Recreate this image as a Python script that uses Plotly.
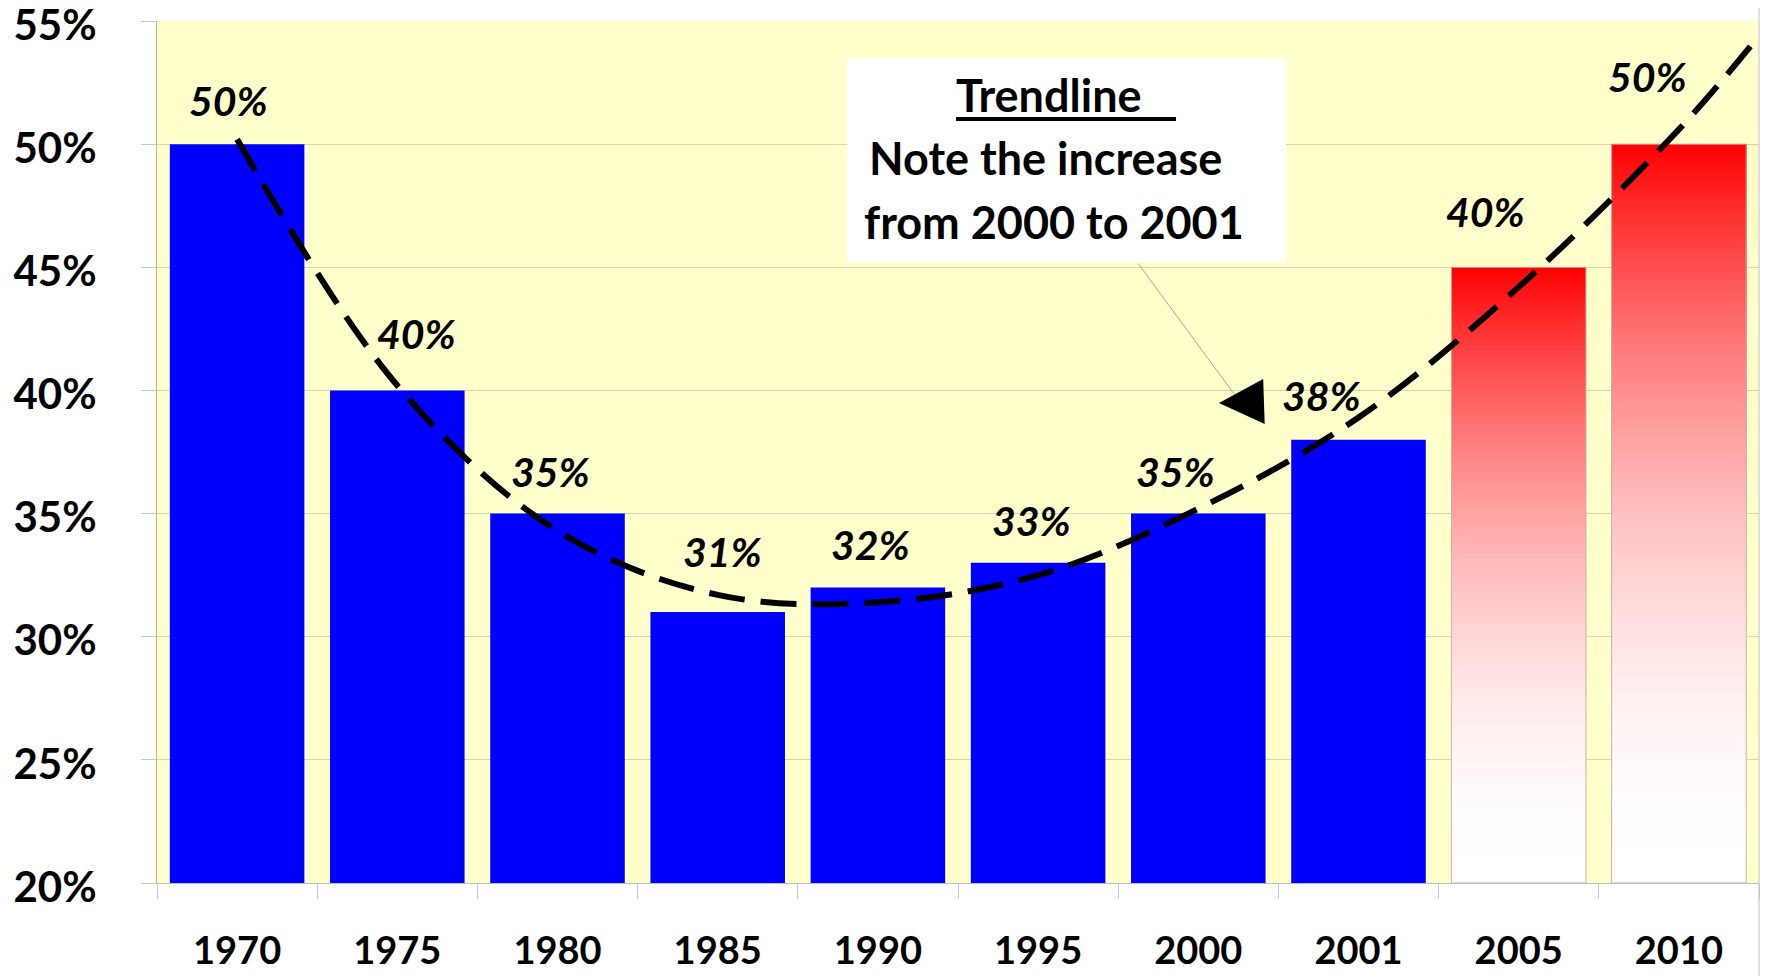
import plotly.graph_objects as go

# ---------------- data ----------------
categories = ['1970', '1975', '1980', '1985', '1990', '1995', '2000', '2001', '2005', '2010']
values = [50, 40, 35, 31, 32, 33, 35, 38, 45, 50]
value_labels = ['50%', '40%', '35%', '31%', '32%', '33%', '35%', '38%', '40%', '50%']
is_projection = [False, False, False, False, False, False, False, False, True, True]
# trendline at each category, plus its forward extension (half a period)
trend_values = [50.2, 40.2, 34.3, 31.7, 31.4, 32.5, 35.2, 38.9, 44.2, 50.6]
trend_forward_value = 54.4
y_ticks = [20, 25, 30, 35, 40, 45, 50, 55]

# ---------------- style ----------------
FONT = 'Lato'
Y_MIN, Y_MAX = 20, 55
label_shift_x = [-9, 19, -7, 5, -7, -7, -23, -37, -33, -31]
label_shift_y = [44, 57, 42, 61, 43, 42, 42, 44, 56, 68]

fig = go.Figure()

hist_x = [c for c, p in zip(categories, is_projection) if not p]
hist_y = [v for v, p in zip(values, is_projection) if not p]
proj_x = [c for c, p in zip(categories, is_projection) if p]
proj_y = [v for v, p in zip(values, is_projection) if p]

fig.add_trace(go.Bar(x=hist_x, y=hist_y, marker=dict(color='#0000FF', line=dict(width=0)),
                     hoverinfo='skip', showlegend=False))

# gradient red bars (red at top fading to white at the bottom), drawn as overlapping layers
N = 120
for k in range(N):
    t = k / N
    bases = [Y_MIN + (v - Y_MIN) * t for v in proj_y]
    heights = [v - b for v, b in zip(proj_y, bases)]
    w = 1 - ((k + 0.5) / N) ** 2
    g = int(round(255 * w))
    fig.add_trace(go.Bar(x=proj_x, y=heights, base=bases,
                         marker=dict(color=f'rgb(255,{g},{g})', line=dict(width=0)),
                         hoverinfo='skip', showlegend=False))
fig.add_trace(go.Bar(x=proj_x, y=[v - Y_MIN for v in proj_y], base=[Y_MIN] * len(proj_y),
                     marker=dict(color='rgba(0,0,0,0)', line=dict(color='#C8AFAF', width=1)),
                     hoverinfo='skip', showlegend=False))

# trendline on an overlaid linear axis so that it can run past the last category
cat_index = list(range(len(categories)))
trend_x = cat_index + [len(categories) - 0.5]
trend_y = trend_values + [trend_forward_value]
fig.add_trace(go.Scatter(x=trend_x, y=trend_y, xaxis='x2', mode='lines',
                         line=dict(color='black', width=6, dash='36px,16px', shape='spline', smoothing=1),
                         hoverinfo='skip', showlegend=False))

annotations = []
for i, v, lab, dx, dy in zip(cat_index, values, value_labels, label_shift_x, label_shift_y):
    annotations.append(dict(x=i, y=v, xref='x2', yref='y', text=lab, showarrow=False,
                            xshift=dx, yshift=dy, yanchor='middle', xanchor='center',
                            font=dict(family=FONT, size=41, color='black', weight='bold', style='italic')))

NOTE_SIZE = 45
annotations += [
    dict(x=0.5568, y=0.9142, xref='paper', yref='paper', text='Trendline', showarrow=False,
         xanchor='center', yanchor='middle', font=dict(family=FONT, size=NOTE_SIZE, color='black', weight='bold')),
    dict(x=0.4432, y=0.8411, xref='paper', yref='paper', text='Note the increase', showarrow=False,
         xanchor='left', yanchor='middle', font=dict(family=FONT, size=NOTE_SIZE, color='black', weight='bold')),
    dict(x=0.4401, y=0.7668, xref='paper', yref='paper', text='from 2000 to 2001', showarrow=False,
         xanchor='left', yanchor='middle', font=dict(family=FONT, size=NOTE_SIZE, color='black', weight='bold')),
    # connector line
    dict(x=0.6742, y=0.5626, xref='paper', yref='paper', ax=-100, ay=-136, text='', showarrow=True,
         arrowhead=0, arrowwidth=1, arrowcolor='#A8A890'),
    # arrow head (points left, as in the source)
    dict(x=0.6629, y=0.5568, xref='paper', yref='paper', ax=30, ay=-1, text='', showarrow=True,
         arrowhead=2, arrowsize=3, arrowwidth=3, arrowcolor='black'),
]

shapes = [
    dict(type='rect', xref='paper', yref='paper', x0=0.4307, x1=0.7047, y0=0.7204, y1=0.9571,
         fillcolor='white', line=dict(width=0), layer='above'),
    dict(type='line', xref='paper', yref='paper', x0=0.4988, x1=0.6361, y0=0.8863, y1=0.8863,
         line=dict(color='black', width=4), layer='above'),
    dict(type='line', xref='paper', yref='paper', x0=1.0, x1=1.0, y0=-0.12, y1=1.03,
         line=dict(color='#C0C0C0', width=1), layer='above'),
]

fig.update_layout(
    width=1756, height=968,
    margin=dict(l=149, r=5, t=13, b=93, autoexpand=False),
    paper_bgcolor='white', plot_bgcolor='#FFFFCC',
    barmode='overlay', bargap=0.16,
    showlegend=False,
    annotations=annotations, shapes=shapes,
    xaxis=dict(type='category', categoryorder='array', categoryarray=categories,
               range=[-0.5, len(categories) - 0.5], automargin=False,
               tickson='boundaries', ticks='outside', ticklen=15, tickcolor='#C8C8C8',
               showline=True, linecolor='#BEBEBE', linewidth=1, showgrid=False,
               tickfont=dict(family=FONT, size=38, color='black', weight='bold'),
               ticklabelstandoff=34),
    xaxis2=dict(overlaying='x', range=[-0.5, len(categories) - 0.5], visible=False),
    yaxis=dict(range=[Y_MIN, Y_MAX], tickvals=y_ticks, ticktext=[f'{t}%' for t in y_ticks],
               automargin=False,
               ticks='outside', ticklen=15, tickcolor='#C8C8C8',
               showline=True, linecolor='#B8B898', linewidth=1,
               showgrid=True, gridcolor='#D6D6B0', gridwidth=1, zeroline=False,
               tickfont=dict(family=FONT, size=42, color='black', weight='bold'),
               ticklabelstandoff=36, ticklabeloverflow='allow', ticklabelshift=4),
)

fig.write_html('out.html')
